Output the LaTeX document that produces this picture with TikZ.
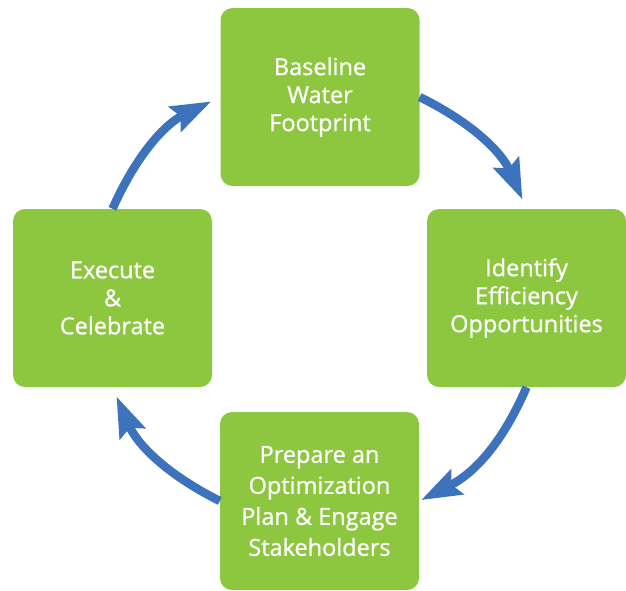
\documentclass[tikz,border=0pt]{standalone}
\usepackage{fontspec}
\setmainfont{Open Sans}[FakeBold=0.9]
\usetikzlibrary{arrows.meta}
\definecolor{boxgreen}{HTML}{8DC63F}
\definecolor{arrowblue}{HTML}{3D72BD}
\begin{document}
\begin{tikzpicture}[x=1pt,y=-1pt,
  stepbox/.style={fill=boxgreen, draw=none, rounded corners=12pt, minimum width=199pt, minimum height=178pt, text=white, align=center, font=\fontsize{23.5}{28}\selectfont, inner sep=0pt},
  cyc/.style={arrowblue, line width=8.5pt, -{Stealth[length=40pt,width=27pt,inset=6pt]}, shorten >=10pt}]
\useasboundingbox (0,0) rectangle (626,590);
\node[stepbox] (top) at (320,97) {Baseline\\Water\\Footprint};
\node[stepbox] (right) at (526.5,298) {Identify\\Efficiency\\Opportunities};
\node[stepbox, font=\fontsize{23.5}{31}\selectfont] (bottom) at (319.5,501) {Prepare an\\Optimization\\Plan \& Engage\\Stakeholders};
\node[stepbox] (left) at (112.5,298) {Execute\\\&\\Celebrate};
\draw[cyc] (top.east) to[bend left=20] (right.north);
\draw[cyc, shorten >=2pt] (right.south) to[bend left=20] (bottom.east);
\draw[cyc] (bottom.west) to[bend left=20] (left.south);
\draw[cyc] (left.north) to[bend left=20] (top.west);
\end{tikzpicture}
\end{document}
